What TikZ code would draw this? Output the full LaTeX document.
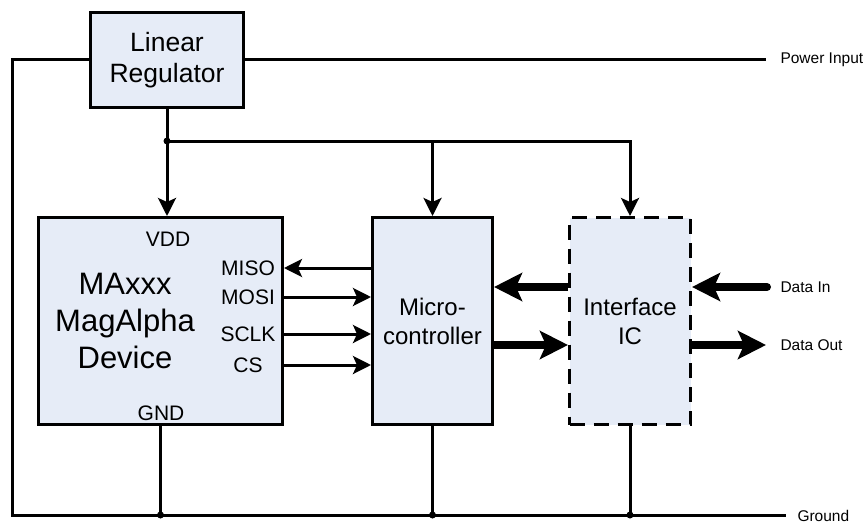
\documentclass[tikz,border=0pt]{standalone}
\usepackage{fontspec}
\setmainfont{Liberation Sans}
\usetikzlibrary{arrows.meta}
\definecolor{caixa}{RGB}{230,236,247}

\begin{document}
\begin{tikzpicture}[> = {Stealth[length=18pt, width=18pt, inset=4pt]}, x=1pt, y=-1pt, line width=3pt]
                \tikzstyle{bloco}=[rectangle, draw, fill=caixa, align=center, font=\fontsize{24}{29}\selectfont]
                \tikzstyle{pino}=[inner sep=0pt, font=\fontsize{21}{25}\selectfont]
                \tikzstyle{rotulo}=[anchor=west, inner sep=0pt, font=\fontsize{15.5}{18}\selectfont]
                \tikzstyle{grosso}=[line width=8pt, -{Stealth[length=28pt, width=28pt, inset=6pt]}]
                \tikzstyle{ponto}=[circle, fill, inner sep=0pt, minimum size=7pt]

                    \useasboundingbox (0,0) rectangle (866,524);

                    % Blocos
                    \node[bloco, minimum width=153pt, minimum height=95pt, font=\fontsize{26.5}{31}\selectfont] (reg) at (167,60) {Linear\\Regulator};
                    \node[bloco, minimum width=244pt, minimum height=207pt] (mag) at (160.5,321) {};
                    \node[bloco, minimum width=120pt, minimum height=207pt] (mcu) at (432.5,321) {Micro-\\controller};
                    \node[bloco, dash pattern=on 15pt off 9pt, minimum width=121pt, minimum height=207pt] (ifc) at (630,321) {Interface\\IC};

                    % Textos do sensor
                    \node[align=center, font=\fontsize{31}{37}\selectfont] (nome) at (125,321) {MAxxx\\MagAlpha\\Device};
                    \node[pino] (vdd) at (168,239) {VDD};
                    \node[pino] (gnd) at (161,413) {GND};
                    \node[pino] (miso) at (248,268) {MISO};
                    \node[pino] (mosi) at (248,297) {MOSI};
                    \node[pino] (sclk) at (248,334) {SCLK};
                    \node[pino] (cs) at (248,365) {CS};

                    % Pontos livres
                    \coordinate (j1) at (167,141);
                    \coordinate (pwr) at (766,60);
                    \coordinate (gl) at (12,515);
                    \coordinate (gr) at (786,515);
                    \coordinate (din) at (767,287);
                    \coordinate (dout) at (766,345);

                    % Alimentacao
                    \draw (reg.east) -- (pwr);
                    \draw (reg.west) -| (gl) -- (gr);
                    \draw (reg.south) -- (j1);
                    \draw[->] (j1) -- (j1 |- mag.north);
                    \draw[->] (j1) -| (ifc.north);
                    \draw[->] (j1 -| mcu.north) -- (mcu.north);

                    % Terra
                    \draw (mag.south) -- (mag.south |- gl);
                    \draw (mcu.south) -- (mcu.south |- gl);
                    \draw (ifc.south) -- (ifc.south |- gl);

                    % SPI
                    \draw[->] (mcu.west |- miso) -- (mag.east |- miso);
                    \draw[->] (mag.east |- mosi) -- (mcu.west |- mosi);
                    \draw[->] (mag.east |- sclk) -- (mcu.west |- sclk);
                    \draw[->] (mag.east |- cs) -- (mcu.west |- cs);

                    % Dados
                    \draw[grosso] (ifc.west |- din) -- (mcu.east |- din);
                    \draw[grosso] (mcu.east |- dout) -- (ifc.west |- dout);
                    \draw[grosso, line cap=round] (din) -- (ifc.east |- din);
                    \draw[grosso] (ifc.east |- dout) -- (dout);

                    % Juncoes
                    \node[ponto] (p1) at (j1) {};
                    \node[ponto] (p2) at (mag.south |- gl) {};
                    \node[ponto] (p3) at (mcu.south |- gl) {};
                    \node[ponto] (p4) at (ifc.south |- gl) {};

                    % Rotulos
                    \node[rotulo] (lpwr) at (779,60) {Power Input};
                    \node[rotulo] (ldin) at (779,287) {Data In};
                    \node[rotulo] (ldout) at (779,345) {Data Out};
                    \node[rotulo] (lgnd) at (796,516) {Ground};

            \end{tikzpicture}
\end{document}
